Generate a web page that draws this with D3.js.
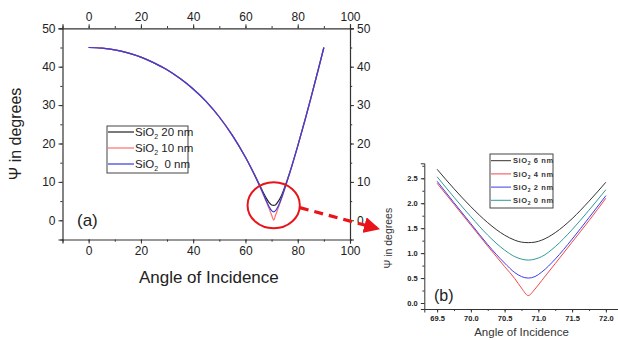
<!DOCTYPE html>
<html>
<head>
<meta charset="utf-8">
<script src="https://cdn.jsdelivr.net/npm/d3@7"></script>
<style>
  body { margin: 0; background: #fff; }
  svg { display: block; font-family: "Liberation Sans", Arial, sans-serif; }
  .axis path, .axis line { stroke: #333; }
  .axis text { fill: #222; }
</style>
</head>
<body>
<svg width="618" height="340"></svg>
<script>
// ---- panel (a): full angle range ----
const anglesA = [0, 5, 10, 15, 20, 25, 30, 35, 40, 45, 50, 55, 60, 62, 64, 66, 67, 68, 69, 70, 70.8, 71.5, 72, 73, 74, 75, 77, 80, 83, 85, 88, 90];
const psi20nm = [45, 44.85, 44.4, 43.6, 42.5, 41.0, 39.2, 36.9, 34.2, 30.9, 26.9, 22.1, 16.4, 13.9, 11.2, 8.4, 7.0, 5.7, 4.7, 4.0, 3.9, 4.0, 4.4, 5.4, 6.8, 8.6, 12.6, 19.4, 26.7, 31.8, 39.7, 45];
const psi10nm = [45, 44.85, 44.4, 43.6, 42.5, 41.0, 39.2, 36.9, 34.2, 30.9, 26.9, 22.1, 16.4, 13.8, 11.0, 8.0, 6.4, 4.8, 3.1, 1.4, 0.05, 1.3, 2.2, 4.1, 6.1, 8.1, 12.4, 19.3, 26.6, 31.7, 39.6, 45];
const psi0nm  = [45, 44.85, 44.4, 43.6, 42.5, 41.0, 39.2, 36.9, 34.2, 30.9, 26.9, 22.1, 16.4, 13.8, 11.0, 8.1, 6.6, 5.0, 3.6, 2.5, 2.2, 2.5, 3.0, 4.4, 6.2, 8.2, 12.4, 19.3, 26.6, 31.7, 39.6, 45];
const seriesA = [
  { name: " 20 nm", values: psi20nm, color: "#222" },
  { name: " 10 nm", values: psi10nm, color: "#ff6f6f" },
  { name: "  0 nm", values: psi0nm, color: "#3a3ae0" }
];

// ---- panel (b): zoom near the minimum ----
const anglesB = [69.5, 69.75, 70.0, 70.25, 70.5, 70.65, 70.75, 70.85, 70.95, 71.05, 71.25, 71.5, 71.75, 72.0];
const psi6nm  = [2.68, 2.29, 1.93, 1.61, 1.36, 1.26, 1.22, 1.21, 1.22, 1.26, 1.41, 1.69, 2.04, 2.42];
const psi4nm  = [2.40, 1.98, 1.56, 1.14, 0.73, 0.49, 0.30, 0.15, 0.28, 0.45, 0.79, 1.22, 1.65, 2.10];
const psi2nm  = [2.44, 2.01, 1.59, 1.17, 0.80, 0.61, 0.53, 0.50, 0.53, 0.62, 0.88, 1.28, 1.71, 2.15];
const psiB0nm = [2.53, 2.12, 1.73, 1.36, 1.06, 0.93, 0.88, 0.86, 0.88, 0.93, 1.13, 1.47, 1.86, 2.27];
const seriesB = [
  { name: "6 nm", values: psi6nm, color: "#333" },
  { name: "4 nm", values: psi4nm, color: "#f04848" },
  { name: "2 nm", values: psi2nm, color: "#3c3cf0" },
  { name: "0 nm", values: psiB0nm, color: "#2f9a96" }
];

const xTicksA = [0, 20, 40, 60, 80, 100];
const yTicksA = [0, 10, 20, 30, 40, 50];
const xTicksB = [69.5, 70.0, 70.5, 71.0, 71.5, 72.0];
const yTicksB = [0.0, 0.5, 1.0, 1.5, 2.0, 2.5];

const svg = d3.select("svg");

// ================= panel (a) =================
const pa = { left: 62.5, right: 350, top: 28.3, bottom: 239.5 };
const xA = d3.scaleLinear().domain([-10, 100]).range([pa.left, pa.right]);
const yA = d3.scaleLinear().domain([-5, 50]).range([pa.bottom, pa.top]);

function addAxis(g, axisFn, scale, major, minor, size, fmt, fontSize) {
  g.append("g").attr("class", "axis")
    .call(axisFn(scale).tickValues(minor).tickSize(size * 0.55).tickFormat(""))
    .call(s => s.select(".domain").remove());
  g.append("g").attr("class", "axis")
    .call(axisFn(scale).tickValues(major).tickSize(size).tickFormat(fmt))
    .call(s => s.selectAll("text").attr("font-size", fontSize));
}

const minorXA = d3.range(-10, 101, 10);
const minorYA = d3.range(-5, 51, 5);

const gB = svg.append("g").attr("transform", `translate(0,${pa.bottom})`);
addAxis(gB, d3.axisBottom, xA, xTicksA, minorXA, 4, d3.format("d"), 12);
const gT = svg.append("g").attr("transform", `translate(0,${pa.top})`);
addAxis(gT, d3.axisTop, xA, xTicksA, minorXA, 4, d3.format("d"), 12);
const gL = svg.append("g").attr("transform", `translate(${pa.left},0)`);
addAxis(gL, d3.axisLeft, yA, yTicksA, minorYA, 4, d3.format("d"), 12);
const gR = svg.append("g").attr("transform", `translate(${pa.right},0)`);
addAxis(gR, d3.axisRight, yA, yTicksA, minorYA, 4, d3.format("d"), 12);
svg.selectAll(".axis path.domain").attr("stroke-width", 1.2);

const lineA = d3.line()
  .x((d, i) => xA(anglesA[i]))
  .y(d => yA(d))
  .curve(d3.curveMonotoneX);

seriesA.forEach(s => {
  svg.append("path")
    .attr("fill", "none")
    .attr("stroke", s.color)
    .attr("stroke-width", 1.2)
    .attr("d", lineA(s.values));
});

// legend (a)
const legA = svg.append("g").attr("transform", "translate(107,126)");
legA.append("rect").attr("width", 81).attr("height", 47)
  .attr("fill", "#fff").attr("stroke", "#444").attr("stroke-width", 1);
seriesA.forEach((s, i) => {
  const yy = 6 + i * 16;
  legA.append("line").attr("x1", 1).attr("x2", 27).attr("y1", yy).attr("y2", yy)
    .attr("stroke", s.color).attr("stroke-width", 1.2);
  const t = legA.append("text").attr("x", 28).attr("y", yy + 4)
    .attr("font-size", 11.5).attr("fill", "#222")
    .attr("xml:space", "preserve").style("white-space", "pre");
  t.append("tspan").text("SiO");
  t.append("tspan").text("2").attr("font-size", 7).attr("dy", 3);
  t.append("tspan").text(s.name).attr("dy", -3);
});

svg.append("text").attr("x", 77).attr("y", 226).attr("font-size", 17)
  .attr("fill", "#222").text("(a)");

svg.append("text")
  .attr("transform", `translate(21,${(pa.top + pa.bottom) / 2}) rotate(-90)`)
  .attr("text-anchor", "middle").attr("font-size", 16).attr("fill", "#222")
  .text("Ψ in degrees");
svg.append("text")
  .attr("x", xA(46)).attr("y", 283)
  .attr("text-anchor", "middle").attr("font-size", 17).attr("fill", "#222")
  .text("Angle of Incidence");

// annotation: circle and dashed arrow
svg.append("ellipse")
  .attr("cx", xA(70.8)).attr("cy", yA(3.9))
  .attr("rx", xA(10) - xA(0)).attr("ry", yA(0) - yA(6))
  .attr("fill", "none").attr("stroke", "#e8141a").attr("stroke-width", 2);

svg.append("defs").append("marker")
  .attr("id", "arr").attr("viewBox", "0 0 10 10").attr("refX", 8).attr("refY", 5)
  .attr("markerWidth", 5).attr("markerHeight", 5).attr("orient", "auto")
  .append("path").attr("d", "M0,0 L10,5 L0,10 Z").attr("fill", "#e8141a");
svg.append("line")
  .attr("x1", xA(80.8)).attr("y1", yA(3.3))
  .attr("x2", xA(110.3)).attr("y2", yA(-2.1))
  .attr("stroke", "#e8141a").attr("stroke-width", 3.2)
  .attr("stroke-dasharray", "9,6")
  .attr("marker-end", "url(#arr)");

// ================= panel (b) =================
const pb = { left: 424.3, right: 618, top: 163.3, bottom: 309 };
const xB = d3.scaleLinear().domain([69.31, 72.18]).range([pb.left, pb.right]);
const yB = d3.scaleLinear().domain([-0.12, 2.8]).range([pb.bottom, pb.top]);

const gbB = svg.append("g").attr("transform", `translate(0,${pb.bottom})`);
addAxis(gbB, d3.axisBottom, xB, xTicksB, d3.range(69.5, 72.01, 0.25), 3.5, d3.format(".1f"), 7.5);
const gbL = svg.append("g").attr("transform", `translate(${pb.left},0)`);
addAxis(gbL, d3.axisLeft, yB, yTicksB, d3.range(0, 2.76, 0.25), 3.5, d3.format(".1f"), 7.5);
gbB.selectAll("text").attr("font-weight", "bold").attr("fill", "#555");
gbL.selectAll("text").attr("font-weight", "bold").attr("fill", "#555");

const lineB = d3.line()
  .x((d, i) => xB(anglesB[i]))
  .y(d => yB(d))
  .curve(d3.curveMonotoneX);

seriesB.forEach(s => {
  svg.append("path")
    .attr("fill", "none")
    .attr("stroke", s.color)
    .attr("stroke-width", 1)
    .attr("d", lineB(s.values));
});

// legend (b)
const legB = svg.append("g").attr("transform", "translate(490,154)");
legB.append("rect").attr("width", 63).attr("height", 54)
  .attr("fill", "#fff").attr("stroke", "#444").attr("stroke-width", 1);
seriesB.forEach((s, i) => {
  const yy = 6.7 + i * 13.2;
  legB.append("line").attr("x1", 1).attr("x2", 21).attr("y1", yy).attr("y2", yy)
    .attr("stroke", s.color).attr("stroke-width", 1);
  const t = legB.append("text").attr("x", 23).attr("y", yy + 2.7)
    .attr("font-size", 7.5).attr("fill", "#333").attr("font-weight", "bold")
    .attr("letter-spacing", 0.6);
  t.append("tspan").text("SiO");
  t.append("tspan").text("2").attr("font-size", 5).attr("dy", 2);
  t.append("tspan").text(" " + s.name).attr("dy", -2);
});

svg.append("text").attr("x", 434).attr("y", 301).attr("font-size", 16)
  .attr("fill", "#222").text("(b)");

svg.append("text")
  .attr("transform", `translate(392,${(pb.top + pb.bottom) / 2 + 2}) rotate(-90)`)
  .attr("text-anchor", "middle").attr("font-size", 10.5).attr("fill", "#333")
  .text("Ψ in degrees");
svg.append("text")
  .attr("x", xB(70.75)).attr("y", 336)
  .attr("text-anchor", "middle").attr("font-size", 11.5).attr("fill", "#333")
  .text("Angle of Incidence");
</script>
</body>
</html>
